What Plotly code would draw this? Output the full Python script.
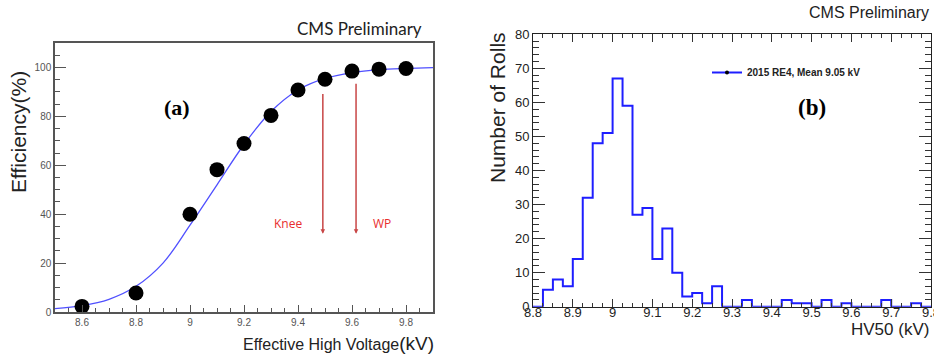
import numpy as np
import plotly.graph_objects as go

W, H = 934, 361

# ---------------- Panel (a) data ----------------
hv_points = [8.6, 8.8, 9.0, 9.1, 9.2, 9.3, 9.4, 9.5, 9.6, 9.7, 9.8]
eff_points = [2.3, 7.8, 40.0, 58.2, 68.9, 80.4, 90.8, 95.2, 98.5, 99.3, 99.6]

fit_hv = [8.5, 8.6, 8.7, 8.8, 8.9, 9.0, 9.1, 9.2, 9.3, 9.4, 9.5, 9.6, 9.7, 9.8, 9.9]
fit_eff = [1.4, 2.6, 5.2, 10.5, 20.0, 35.5, 52.0, 68.5, 82.0, 90.8, 95.5, 97.9, 99.1, 99.6, 99.9]

marker_hv = [9.481, 9.601]      # knee, WP markers
marker_eff = [95.5, 98.6]
arrow_hv = [9.492, 9.615]
arrow_top = [89.8, 93.9]
arrow_bottom = [32.0, 32.0]
arrow_labels = ["Knee", "WP"]

# ---------------- Panel (b) data ----------------
bin_low = [round(8.8 + 0.025 * i, 3) for i in range(40)]
counts = [0, 5, 8, 6, 14, 32, 48, 51, 67, 59,
          27, 29, 14, 23, 10, 3, 4, 1, 6, 0,
          0, 2, 0, 0, 0, 2, 1, 1, 0, 2,
          0, 1, 0, 0, 0, 2, 0, 0, 1, 0]
bin_width = 0.025

def px(x):
    return x / W

def py(y):
    return 1 - y / H

fig = go.Figure()

# fit curve
fig.add_trace(go.Scatter(x=fit_hv, y=fit_eff, mode="lines", line=dict(color="rgb(80,80,255)", width=1.3, shape="spline"),
                         xaxis="x", yaxis="y", showlegend=False, hoverinfo="skip"))
# knee / wp markers
fig.add_trace(go.Scatter(x=marker_hv, y=marker_eff, mode="markers",
                         marker=dict(symbol="cross-open", size=16, color="rgba(0,0,0,0)",
                                     line=dict(color="#555", width=1.2)),
                         xaxis="x", yaxis="y", showlegend=False))
# data points
fig.add_trace(go.Scatter(x=hv_points, y=eff_points, mode="markers",
                         marker=dict(symbol="circle", size=15, color="black"),
                         xaxis="x", yaxis="y", showlegend=False))

# histogram as step line
step_x = bin_low + [round(bin_low[-1] + bin_width, 3)]
step_y = counts + [counts[-1]]
fig.add_trace(go.Scatter(x=step_x, y=step_y, mode="lines", line=dict(color="rgb(30,30,255)", width=2, shape="hv"),
                         xaxis="x2", yaxis="y2", showlegend=False))
# legend entry
fig.add_trace(go.Scatter(x=[None], y=[None], mode="lines+markers", name="<b>2015 RE4, Mean 9.05 kV</b>",
                         line=dict(color="rgb(30,30,255)", width=2),
                         marker=dict(color="black", size=4),
                         xaxis="x2", yaxis="y2", showlegend=True))

# arrows
for xh, yt, yb in zip(arrow_hv, arrow_top, arrow_bottom):
    fig.add_annotation(x=xh, y=yb, ax=xh, ay=yt, xref="x", yref="y", axref="x", ayref="y",
                       showarrow=True, arrowhead=2, arrowsize=0.6, arrowwidth=1.5,
                       arrowcolor="rgb(200,70,70)", text="")

tick_font_a = dict(family="Liberation Sans, Arial", size=10, color="#555")
fig.update_layout(
    template="none",
    width=W, height=H, autosize=False,
    margin=dict(l=0, r=0, t=0, b=0, pad=0),
    paper_bgcolor="white", plot_bgcolor="white",
    xaxis=dict(domain=[px(55), px(433)], range=[8.5, 9.9], anchor="y", automargin=False,
               tick0=8.6, dtick=0.2, ticks="inside", ticklen=7, tickwidth=1, tickcolor="#555",
               minor=dict(dtick=0.05, ticks="inside", ticklen=4, tickcolor="#555"),
               showline=True, linecolor="#555", linewidth=1.5, mirror=True,
               showgrid=False, zeroline=False, tickfont=tick_font_a),
    yaxis=dict(domain=[py(312), py(43)], range=[0, 110], anchor="x", automargin=False,
               tick0=0, dtick=20, ticks="inside", ticklen=11, tickwidth=1, tickcolor="#555",
               minor=dict(dtick=5, ticks="inside", ticklen=5, tickcolor="#555"),
               showline=True, linecolor="#555", linewidth=1.5, mirror=True,
               showgrid=False, zeroline=False, tickfont=tick_font_a),
    xaxis2=dict(domain=[px(533), px(931)], range=[8.8, 9.8], anchor="y2", automargin=False,
                tick0=8.8, dtick=0.1, ticks="inside", ticklen=8, tickcolor="#333",
                minor=dict(dtick=0.025, ticks="inside", ticklen=4, tickcolor="#333"),
                showline=True, linecolor="#222", linewidth=1, mirror="allticks",
                showgrid=False, zeroline=False, ticklabeloverflow="allow", ticklabelstandoff=-6,
                tickfont=dict(family="Liberation Sans, Arial", size=13, color="#222")),
    yaxis2=dict(domain=[py(306.7), py(34.3)], range=[0, 80], anchor="x2", automargin=False,
                tick0=0, dtick=10, ticks="inside", ticklen=12, tickcolor="#333",
                minor=dict(dtick=2, ticks="inside", ticklen=6, tickcolor="#333"),
                showline=True, linecolor="#222", linewidth=1, mirror="allticks",
                showgrid=False, zeroline=False,
                tickfont=dict(family="Liberation Sans, Arial", size=13, color="#222")),
    legend=dict(x=px(707), y=py(58), xanchor="left", yanchor="top", bgcolor="rgba(0,0,0,0)",
                font=dict(family="Liberation Sans, Arial", size=10, color="#222"),
                itemwidth=30, borderwidth=0),
)

annots = [
    dict(text="CMS Preliminary", x=px(424), y=py(28), xanchor="right", yanchor="middle",
         font=dict(family="Lato, Open Sans", size=17, color="#222")),
    dict(text="Efficiency(%)", x=px(18), y=py(132), xanchor="center", yanchor="middle", textangle=-90,
         font=dict(family="Liberation Sans, Arial", size=21, color="#222")),
    dict(text="Effective High Voltage<span style='font-size:19px'>(kV)</span>", x=px(436), y=py(343),
         xanchor="right", yanchor="middle",
         font=dict(family="Liberation Sans, Arial", size=16, color="#222")),
    dict(text="<b>(a)</b>", x=px(177), y=py(107), xanchor="center", yanchor="middle",
         font=dict(family="Liberation Serif, Times New Roman", size=22, color="black")),
    dict(text="<b>(b)</b>", x=px(812), y=py(107), xanchor="center", yanchor="middle",
         font=dict(family="Liberation Serif, Times New Roman", size=23, color="black")),
    dict(text="CMS Preliminary", x=px(931), y=py(12), xanchor="right", yanchor="middle",
         font=dict(family="Liberation Sans, Arial", size=16, color="#222")),
    dict(text="Number of Rolls", x=px(497), y=py(108), xanchor="center", yanchor="middle", textangle=-90,
         font=dict(family="Liberation Sans, Arial", size=21, color="#222")),
    dict(text="HV50 (kV)", x=px(931), y=py(329), xanchor="right", yanchor="middle",
         font=dict(family="Liberation Sans, Arial", size=17, color="#222")),
]
for a in annots:
    fig.add_annotation(xref="paper", yref="paper", showarrow=False, **a)

for xh, lab, xp in zip(arrow_hv, arrow_labels, [288, 382]):
    fig.add_annotation(xref="paper", yref="paper", x=px(xp), y=py(224), text=lab, showarrow=False,
                       xanchor="center", yanchor="middle",
                       font=dict(family="Open Sans, Lato", size=12, color="rgb(232,45,45)"))

fig.write_html("out.html", config={"displayModeBar": False},
               post_script="document.body.style.margin='0px';")
